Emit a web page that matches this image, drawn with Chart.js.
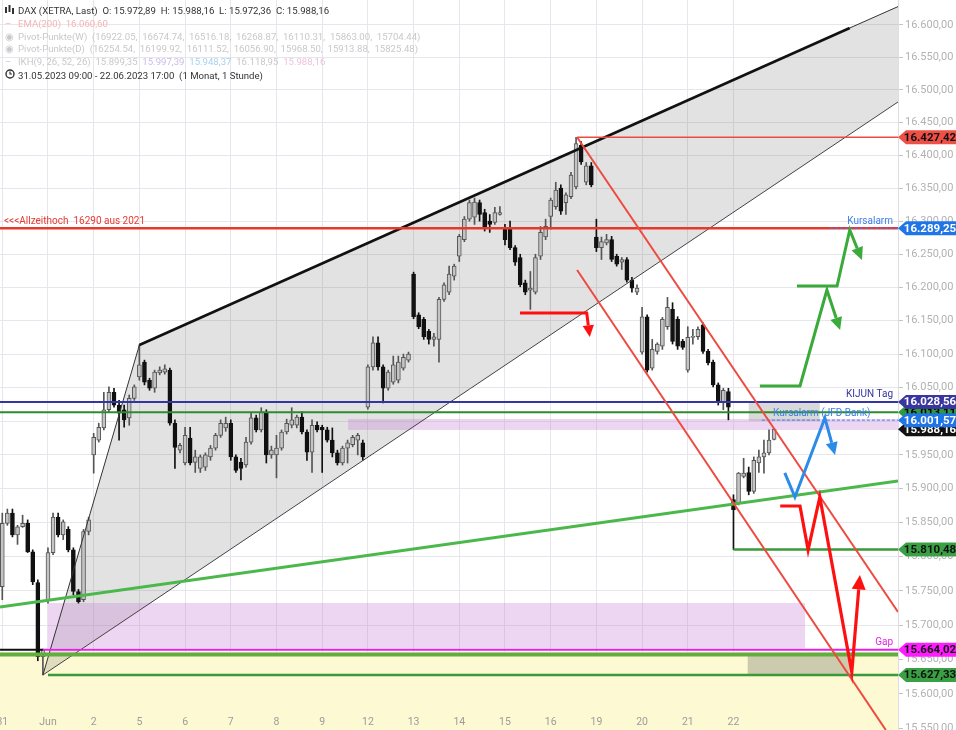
<!DOCTYPE html>
<html lang="de">
<head>
<meta charset="UTF-8">
<title>DAX (XETRA) Stundenchart</title>
<script src="https://cdn.jsdelivr.net/npm/chart.js@4"></script>
<style>
  html, body { margin: 0; padding: 0; background: #fff; }
  #wrap { position: relative; width: 956px; height: 730px; overflow: hidden; font-family: Roboto, "Open Sans", sans-serif; }
  #info { position: absolute; left: 5px; top: 5px; font-size: 9.6px; line-height: 12.8px; color: #333; pointer-events: none; }
  #info .row { height: 12.8px; white-space: pre; }
  #info .ic { display: inline-block; width: 13px; }
  .faded { color: #c9c9c9; }
  .fadedRed { color: #f4b4b4; }
</style>
</head>
<body>
<div id="wrap">
  <canvas id="daxChart" width="956" height="730"></canvas>
  <div id="info">
    <div class="row"><span class="ic"><svg width="9" height="9" viewBox="0 0 9 9"><rect x="0" y="2" width="2" height="6" fill="#333"/><rect x="3.5" y="0" width="2" height="7" fill="#333"/><rect x="7" y="3" width="2" height="6" fill="#333"/></svg></span>DAX (XETRA, Last)  O: 15.972,89  H: 15.988,16  L: 15.972,36  C: 15.988,16</div>
    <div class="row fadedRed"><span class="ic">–</span>EMA(200)  16.060,60</div>
    <div class="row faded"><span class="ic">◉</span>Pivot-Punkte(W)  (16922.05,  16674.74,  16516.18,  16268.87,  16110.31,  15863.00,  15704.44)</div>
    <div class="row faded"><span class="ic">◉</span>Pivot-Punkte(D)  (16254.54,  16199.92,  16111.52,  16056.90,  15968.50,  15913.88,  15825.48)</div>
    <div class="row faded"><span class="ic">–</span>IKH(9, 26, 52, 26)  15.899,35  <span style="color:#cbbde8">15.997,39</span>  <span style="color:#a6d2ee">15.948,37</span>  16.118,95  <span style="color:#ecc4dc">15.988,16</span></div>
    <div class="row"><span class="ic"><svg width="10" height="10" viewBox="0 0 10 10"><circle cx="5" cy="5" r="4" fill="none" stroke="#333" stroke-width="1.4"/><path d="M5 2.5 V5 H7" fill="none" stroke="#333" stroke-width="1.2"/></svg></span>31.05.2023 09:00 - 22.06.2023 17:00  (1 Monat, 1 Stunde)</div>
  </div>
</div>

<script>
// Handelstage (9 Stundenkerzen pro Tag, 09:00 - 17:00)
const dayLabels = ['31', 'Jun', '2', '5', '6', '7', '8', '9', '12', '13', '14', '15', '16', '19', '20', '21', '22'];
const candlesPerDay = 9;

const opens = [
  15756, 15849, 15864, 15832, 15844, 15849, 15807, 15762, 15654,
  15737, 15806, 15858, 15832, 15840, 15810, 15749, 15737, 15837,
  15950, 15972, 15990, 16017, 16043, 16024, 16017, 16005, 16034,
  16066, 16088, 16061, 16049, 16072, 16073, 16076, 15997, 15957,
  15938, 15975, 15939, 15930, 15932, 15947, 15960, 15979, 15990,
  15997, 15947, 15939, 15935, 15969, 16005, 15987, 16012, 15950,
  15950, 15960, 15984, 15994, 15994, 16006, 15984, 15954, 15994,
  15991, 15987, 15972, 15953, 15938, 15960, 15965, 15972, 15968,
  16021, 16081, 16117, 16081, 16049, 16058, 16061, 16079, 16091,
  16220, 16159, 16152, 16134, 16122, 16122, 16182, 16193, 16217,
  16247, 16272, 16303, 16306, 16328, 16313, 16300, 16298, 16310,
  16288, 16288, 16260, 16245, 16207, 16196, 16193, 16247, 16276,
  16307, 16322, 16350, 16328, 16337, 16352, 16415, 16359, 16384,
  16276, 16260, 16267, 16272, 16247, 16238, 16242, 16211, 16193,
  16103, 16156, 16079, 16104, 16112, 16141, 16167, 16152, 16119,
  16076, 16125, 16126, 16144, 16104, 16088, 16054, 16029, 16044,
  15884, 15879, 15918, 15924, 15896, 15938, 15947, 15953, 15972.89
];
const highs = [
  15864, 15870, 15870, 15846, 15861, 15854, 15810, 15766, 15665,
  15813, 15864, 15864, 15854, 15844, 15813, 15752, 15840, 15858,
  15982, 15997, 16043, 16051, 16049, 16031, 16024, 16039, 16054,
  16114, 16091, 16064, 16076, 16081, 16084, 16079, 16002, 15967,
  15991, 15991, 15957, 15950, 15953, 15964, 15982, 16002, 16006,
  16002, 15950, 15945, 15976, 16012, 16009, 16020, 16017, 15963,
  15979, 15987, 16003, 16020, 16009, 16014, 15987, 16002, 15999,
  15994, 15991, 15990, 15957, 15963, 15972, 15979, 15982, 15972,
  16084, 16126, 16126, 16084, 16076, 16097, 16097, 16100, 16103,
  16223, 16162, 16155, 16137, 16131, 16185, 16207, 16232, 16235,
  16280, 16307, 16332, 16335, 16332, 16318, 16310, 16321, 16322,
  16295, 16300, 16263, 16250, 16211, 16224, 16250, 16292, 16303,
  16335, 16359, 16355, 16343, 16374, 16427.42, 16421, 16389, 16389,
  16303, 16276, 16280, 16277, 16250, 16245, 16245, 16215, 16204,
  16170, 16159, 16122, 16117, 16155, 16185, 16177, 16156, 16122,
  16141, 16137, 16141, 16147, 16107, 16091, 16057, 16049, 16049,
  15891, 15924, 15945, 15932, 15947, 15957, 15972, 15987, 15988.16
];
const lows = [
  15737, 15846, 15829, 15818, 15843, 15806, 15759, 15648, 15627.33,
  15732, 15803, 15829, 15825, 15807, 15744, 15732, 15734, 15832,
  15923, 15969, 15987, 16014, 16021, 15972, 15991, 15994, 16031,
  16061, 16054, 16046, 16043, 16069, 16070, 15994, 15930, 15953,
  15935, 15935, 15924, 15924, 15927, 15942, 15957, 15976, 15985,
  15942, 15924, 15913, 15932, 15966, 15984, 15984, 15938, 15945,
  15916, 15957, 15981, 15990, 15990, 15981, 15942, 15924, 15984,
  15924, 15969, 15947, 15935, 15935, 15938, 15962, 15950, 15942,
  16018, 16076, 16076, 16027, 16046, 16055, 16057, 16076, 16088,
  16153, 16138, 16122, 16115, 16112, 16088, 16179, 16189, 16211,
  16239, 16269, 16300, 16295, 16300, 16285, 16283, 16295, 16309,
  16264, 16257, 16233, 16201, 16189, 16167, 16190, 16242, 16272,
  16288, 16318, 16310, 16310, 16334, 16349, 16386, 16355, 16352,
  16254, 16242, 16264, 16239, 16232, 16227, 16208, 16193, 16189,
  16100, 16073, 16076, 16100, 16107, 16137, 16115, 16107, 16107,
  16073, 16115, 16122, 16101, 16084, 16051, 16024, 16017, 16002,
  15810.48, 15876, 15916, 15891, 15893, 15924, 15923, 15950, 15972.36
];
const closes = [
  15849, 15864, 15832, 15844, 15849, 15807, 15763, 15654, 15664.02,
  15806, 15858, 15832, 15851, 15810, 15749, 15734, 15837, 15854,
  15976, 15991, 16017, 16043, 16024, 16012, 16002, 16034, 16051,
  16084, 16058, 16049, 16073, 16076, 16078, 15997, 15961, 15964,
  15979, 15938, 15947, 15947, 15950, 15960, 15979, 15997, 15997,
  15947, 15927, 15930, 15969, 16005, 15987, 16014, 15950, 15957,
  15960, 15984, 15997, 16002, 16006, 15984, 15954, 15994, 15987,
  15987, 15972, 15953, 15938, 15960, 15968, 15976, 15979, 15947,
  16081, 16117, 16081, 16049, 16073, 16084, 16088, 16095, 16100,
  16156, 16141, 16126, 16122, 16126, 16182, 16204, 16220, 16232,
  16277, 16303, 16328, 16329, 16310, 16291, 16295, 16313, 16313,
  16272, 16260, 16238, 16204, 16193, 16199, 16245, 16283, 16292,
  16332, 16347, 16315, 16340, 16370, 16418, 16390, 16384, 16355,
  16260, 16269, 16272, 16242, 16235, 16242, 16211, 16199, 16199,
  16156, 16076, 16107, 16115, 16152, 16170, 16119, 16112, 16110,
  16125, 16126, 16137, 16104, 16087, 16054, 16029, 16046, 16021,
  15869, 15923, 15923, 15896, 15942, 15947, 15953, 15972, 15988.16
];

// Preisachse (logarithmisch)
const yTicks = [15550, 15600, 15650, 15700, 15750, 15800, 15850, 15900, 15950, 16000, 16050,
  16100, 16150, 16200, 16250, 16300, 16350, 16400, 16450, 16500, 16550, 16600];
const yRange = [15547.7, 16638.2];
const xRange = [-0.45, 176.4];

// horizontale Marken
const allTimeHigh = 16289.25;
const recentHigh = 16427.42;
const kijunLevel = 16028.56;
const greenLevel = 16013.11;
const alarmJfd = 16001.57;
const lastClose = 15988.16;
const supportLevel = 15810.48;
const gapLevel = 15664.02;
const gapBand = 15657;
const lowLevel = 15627.33;

// Zonen [von Kerze, bis Kerze, Preis unten, Preis oben]
const gapZone = [9, 158.1, 15666, 15732.2];
const thinZone = [68.1, 176.4, 15987, 16003.3];
const alarmBox = [147, 161, 16000.3, 16027];
const lowBox = [146.8, 166.9, 15625.8, 15654.9];
const yellowZone = [15547.7, 15660.7];

// Trendlinien als [Kerze, Preis]
const channelLower = [[8, 15627.33], [176.4, 16481.4]];
const channelUpper = [[27, 16113.6], [166.9, 16595], [176.4, 16628]];
const redChannelA = [[113.2, 16427.4], [176.4, 15719]];
const redChannelB = [[113.2, 16226.2], [174, 15547.7]];
const greenTrend = [[-0.45, 15726.3], [176.4, 15911.4]];

// Szenario-Pfeile
const redArrowTop = [[101.95, 16161.5], [115.1, 16161.5], [115.7, 16125.6]];
const greenArrowA = [[149.2, 16052.4], [157.1, 16052.4], [162.4, 16196.1], [165, 16136]];
const greenArrowB = [[156.5, 16202.1], [164.4, 16202.1], [166.9, 16286.6], [169.3, 16241.3]];
const blueArrow = [[154.1, 15923.4], [156.1, 15887.8], [162, 16004.8], [164, 15950]];
const redArrowLow = [[153.2, 15874.5], [157.1, 15874.5], [158.7, 15809.8], [161, 15887.8], [167.3, 15631.6], [168.9, 15773.1]];

// Preisschilder an der Achse
const priceTags = [greenLevel, lastClose, recentHigh, allTimeHigh, kijunLevel, alarmJfd, supportLevel, gapLevel, lowLevel];
const tagStyles = [
  ['#2e9a3a', '#000'], ['#111', '#fff'], ['#ee5046', '#111'], ['#1f74e6', '#fff'], ['#3a36a0', '#fff'],
  ['#1f74e6', '#fff'], ['#3aa044', '#111'], ['#ff1aff', '#111'], ['#3aa044', '#111']
];

function fmtDe(v) {
  const parts = v.toFixed(2).split('.');
  return parts[0].replace(/\B(?=(\d{3})+(?!\d))/g, '.') + ',' + parts[1];
}

const idx = opens.map((_, i) => i);
const isUp = idx.map(i => closes[i] >= opens[i]);

// Flächen hinter den Kerzen
const zonesPlugin = {
  id: 'zones',
  beforeDatasetsDraw(chart) {
    const { ctx, chartArea: a, scales: { x, y } } = chart;
    const X = v => x.getPixelForValue(v), Y = p => y.getPixelForValue(p);
    ctx.save();
    ctx.beginPath(); ctx.rect(a.left, a.top, a.width, a.height); ctx.clip();

    ctx.fillStyle = '#fdf9d2';
    ctx.fillRect(a.left, Y(yellowZone[1]), a.width, a.bottom - Y(yellowZone[1]));

    ctx.fillStyle = 'rgba(110,110,110,0.2)';
    ctx.beginPath();
    ctx.moveTo(X(channelLower[0][0]), Y(channelLower[0][1]));
    channelUpper.forEach(pt => ctx.lineTo(X(pt[0]), Y(pt[1])));
    ctx.lineTo(X(channelLower[1][0]), Y(channelLower[1][1]));
    ctx.closePath();
    ctx.fill();

    const box = (z, col) => {
      ctx.fillStyle = col;
      ctx.fillRect(X(z[0]), Y(z[3]), X(z[1]) - X(z[0]), Y(z[2]) - Y(z[3]));
    };
    box(gapZone, 'rgba(200,130,212,0.33)');
    box(thinZone, 'rgba(200,130,212,0.33)');
    box(alarmBox, 'rgba(140,140,140,0.33)');
    box(lowBox, 'rgba(110,110,100,0.33)');
    ctx.restore();
  }
};

// Linien, Pfeile und Beschriftungen
const drawingsPlugin = {
  id: 'drawings',
  afterDatasetsDraw(chart) {
    const { ctx, chartArea: a, scales: { x, y } } = chart;
    const X = v => x.getPixelForValue(v), Y = p => y.getPixelForValue(p);
    ctx.save();
    ctx.beginPath(); ctx.rect(a.left, a.top, a.width, a.height); ctx.clip();
    ctx.lineCap = 'butt';

    const line = (pts, col, w, dash) => {
      ctx.strokeStyle = col; ctx.lineWidth = w; ctx.setLineDash(dash || []);
      ctx.beginPath();
      pts.forEach((pt, k) => k ? ctx.lineTo(X(pt[0]), Y(pt[1])) : ctx.moveTo(X(pt[0]), Y(pt[1])));
      ctx.stroke();
      ctx.setLineDash([]);
    };
    const hline = (p, from, col, w, dash, to) => line([[from, p], [to === undefined ? xRange[1] : to, p]], col, w, dash);

    // Aufwärtskanal
    line([channelLower[0], channelUpper[0]], '#333', 1);
    line(channelLower, '#444', 1);
    line([channelUpper[0], channelUpper[1]], '#111', 2.6);
    line([channelUpper[1], channelUpper[2]], '#333', 1);

    // horizontale Marken
    hline(gapBand, xRange[0], '#62ad40', 4);
    hline(gapLevel, xRange[0], '#111', 2, null, 8);
    hline(gapLevel, 8, '#e81ee8', 2);
    hline(lowLevel, 9, '#3a9a3a', 2.5);
    hline(supportLevel, 144, '#3a9a3a', 2.5);
    hline(greenLevel, xRange[0], '#2e8b2e', 2);
    hline(kijunLevel, xRange[0], '#3434a2', 2);
    hline(alarmJfd, 149.6, '#3b82f0', 1, [3, 2]);
    hline(allTimeHigh, xRange[0], '#e8372c', 2.6);
    hline(allTimeHigh, 163, '#3b82f0', 1, [3, 2]);
    hline(recentHigh, 113.2, '#ee4a40', 1.6);

    // Trendlinien
    line(greenTrend, '#4cb84c', 3);
    line(redChannelA, '#ee4a40', 2);
    line(redChannelB, '#ee4a40', 2);

    const arrow = (pts, col, w, head) => {
      const px = pts.map(pt => [X(pt[0]), Y(pt[1])]);
      const n = px.length;
      const [tx, ty] = px[n - 1], [sx, sy] = px[n - 2];
      const ang = Math.atan2(ty - sy, tx - sx);
      const bx = tx - Math.cos(ang) * head * 0.9, by = ty - Math.sin(ang) * head * 0.9;
      ctx.strokeStyle = col; ctx.lineWidth = w; ctx.lineJoin = 'miter';
      ctx.beginPath();
      px.slice(0, n - 1).forEach((q, k) => k ? ctx.lineTo(q[0], q[1]) : ctx.moveTo(q[0], q[1]));
      ctx.lineTo(bx, by);
      ctx.stroke();
      ctx.fillStyle = col;
      ctx.beginPath();
      ctx.moveTo(tx, ty);
      ctx.lineTo(tx - Math.cos(ang - 0.45) * head, ty - Math.sin(ang - 0.45) * head);
      ctx.lineTo(tx - Math.cos(ang + 0.45) * head, ty - Math.sin(ang + 0.45) * head);
      ctx.closePath();
      ctx.fill();
    };
    arrow(redArrowTop, '#ff1010', 3, 13);
    arrow(greenArrowA, '#3aaa3a', 3, 14);
    arrow(greenArrowB, '#3aaa3a', 3, 14);
    arrow(blueArrow, '#2b8be8', 3, 14);
    arrow(redArrowLow, '#ff1010', 3.2, 16);

    // Texte
    ctx.font = '10px Roboto, sans-serif';
    ctx.textBaseline = 'alphabetic';
    ctx.textAlign = 'left';
    ctx.fillStyle = '#e53a30';
    ctx.fillText('<<<Allzeithoch  16290 aus 2021', a.left + 4, Y(allTimeHigh) - 4);
    ctx.fillStyle = '#3b7fe8';
    ctx.fillText('Kursalarm (JFD Bank)', X(151.8), Y(alarmJfd) - 4);
    ctx.textAlign = 'right';
    ctx.fillText('Kursalarm', a.right - 5, Y(allTimeHigh) - 4);
    ctx.fillStyle = '#3434a2';
    ctx.fillText('KIJUN Tag', a.right - 5, Y(kijunLevel) - 5);
    ctx.fillStyle = '#e81ee8';
    ctx.fillText('Gap', a.right - 5, Y(gapLevel) - 5);

    // Datumsachse
    ctx.fillStyle = '#9c9c9c';
    ctx.textAlign = 'center';
    ctx.textBaseline = 'middle';
    ctx.font = '10.5px Roboto, sans-serif';
    dayLabels.forEach((lab, d) => ctx.fillText(lab, X(d * candlesPerDay), a.bottom - 8));
    ctx.restore();
  },
  afterDraw(chart) {
    const { ctx, chartArea: a, scales: { y } } = chart;
    ctx.save();
    ctx.font = 'bold 11.5px Roboto, sans-serif';
    ctx.textAlign = 'center';
    ctx.textBaseline = 'middle';
    priceTags.forEach((p, k) => {
      const py = y.getPixelForValue(p), h = 7;
      ctx.fillStyle = tagStyles[k][0];
      ctx.beginPath();
      ctx.moveTo(a.right, py);
      ctx.lineTo(a.right + 8, py - h);
      ctx.lineTo(chart.width, py - h);
      ctx.lineTo(chart.width, py + h);
      ctx.lineTo(a.right + 8, py + h);
      ctx.closePath();
      ctx.fill();
      ctx.fillStyle = tagStyles[k][1];
      ctx.fillText(fmtDe(p), a.right + 32, py + 0.5);
    });
    ctx.restore();
  }
};

new Chart(document.getElementById('daxChart').getContext('2d'), {
  type: 'bar',
  data: {
    datasets: [
      {
        label: 'Körper',
        order: 0,
        data: idx.map(i => ({ x: i, y: [opens[i], closes[i]] })),
        backgroundColor: idx.map(i => isUp[i] ? '#c4c4c4' : '#111'),
        borderColor: idx.map(i => isUp[i] ? '#555' : '#111'),
        borderWidth: 1,
        borderSkipped: false,
        barThickness: 4,
        minBarLength: 1,
        grouped: false
      },
      {
        label: 'Docht',
        order: 1,
        data: idx.map(i => ({ x: i, y: [lows[i], highs[i]] })),
        backgroundColor: idx.map(i => isUp[i] ? '#555' : '#111'),
        borderWidth: 0,
        barThickness: 1,
        grouped: false
      }
    ]
  },
  options: {
    responsive: false,
    animation: false,
    layout: { padding: 0 },
    plugins: { legend: { display: false }, tooltip: { enabled: false } },
    scales: {
      x: {
        type: 'linear',
        offset: false,
        min: xRange[0],
        max: xRange[1],
        afterBuildTicks: s => { s.ticks = dayLabels.map((_, d) => ({ value: d * candlesPerDay })); },
        afterFit: s => { s.height = 0; s.paddingLeft = 0; s.paddingRight = 0; },
        ticks: { display: false },
        grid: { color: '#e6e6ec', drawTicks: false, offset: false },
        border: { display: false }
      },
      y: {
        type: 'logarithmic',
        position: 'right',
        min: yRange[0],
        max: yRange[1],
        afterBuildTicks: s => { s.ticks = yTicks.map(v => ({ value: v })); },
        afterFit: s => { s.width = 58; s.paddingTop = 0; s.paddingBottom = 0; },
        ticks: {
          color: '#b2b2b2',
          font: { family: 'Roboto', size: 11 },
          padding: 2,
          callback: v => fmtDe(v)
        },
        grid: { color: '#e6e6ec', tickColor: '#c4c4c4', tickLength: 5 },
        border: { color: '#dcdce2' }
      }
    }
  },
  plugins: [zonesPlugin, drawingsPlugin]
});
</script>
</body>
</html>
